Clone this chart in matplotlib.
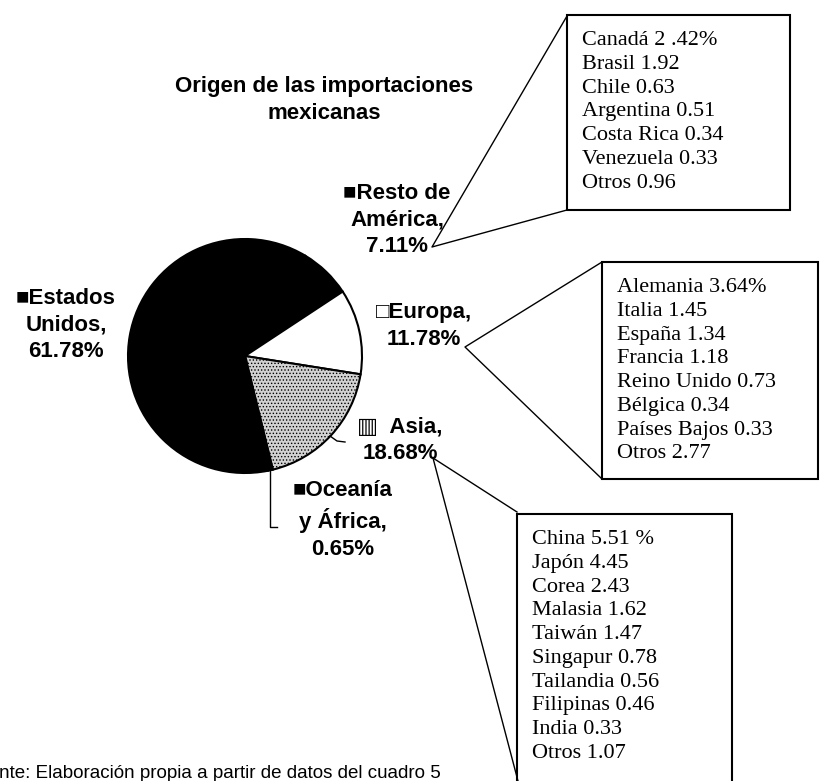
import matplotlib.pyplot as plt
from matplotlib.patches import Rectangle

plt.rcParams['hatch.linewidth'] = 0.6

W, H = 822, 781

# main pie (clockwise from Resto de America)
regions = ["Resto de\nAmérica,", "Europa,", "Asia,", "Oceanía\ny África,", "Estados\nUnidos,"]
shares = [7.11, 11.78, 18.68, 0.65, 61.78]
slice_colors = ["black", "white", "#d2d2d2", "black", "black"]

# detail boxes
america_names = ["Canadá", "Brasil", "Chile", "Argentina", "Costa Rica", "Venezuela", "Otros"]
america_vals = ["2 .42%", "1.92", "0.63", "0.51", "0.34", "0.33", "0.96"]
europa_names = ["Alemania", "Italia", "España", "Francia", "Reino Unido", "Bélgica", "Países Bajos", "Otros"]
europa_vals = ["3.64%", "1.45", "1.34", "1.18", "0.73", "0.34", "0.33", "2.77"]
asia_names = ["China", "Japón", "Corea", "Malasia", "Taiwán", "Singapur", "Tailandia", "Filipinas", "India", "Otros"]
asia_vals = ["5.51 %", "4.45", "2.43", "1.62", "1.47", "0.78", "0.56", "0.46", "0.33", "1.07"]

sans = ['Liberation Sans', 'DejaVu Sans']
serif = ['Liberation Serif', 'DejaVu Serif']

fig = plt.figure(figsize=(W / 100, H / 100), dpi=100)
ax = fig.add_axes([0, 0, 1, 1])

# y axis is inverted (pixel coords), so ccw in data = cw on screen
wedges, _ = ax.pie(shares, colors=slice_colors, startangle=-59, counterclock=True,
                   center=(245, 356), radius=117,
                   wedgeprops=dict(edgecolor='black', linewidth=1.5))
wedges[2].set_hatch('.....')

ax.set_xlim(0, W)
ax.set_ylim(H, 0)
ax.set_aspect('equal')
ax.axis('off')

ax.text(324, 100, "Origen de las importaciones\nmexicanas", ha='center', va='center',
        fontsize=16, fontweight='bold', family=sans, linespacing=1.4)

lab = dict(ha='center', va='center', fontsize=16, fontweight='bold', family=sans, linespacing=1.35)
ax.text(397, 220, "■" + regions[0] + f"\n{shares[0]:.2f}%", **lab)
ax.text(424, 326, "□" + regions[1] + f"\n{shares[1]:.2f}%", **lab)
ax.text(400, 440, "▥  " + regions[2] + f"\n{shares[2]:.2f}%", **lab)
ax.text(343, 520, "■" + regions[3] + f"\n{shares[3]:.2f}%", **lab)
ax.text(66, 325, "■" + regions[4] + f"\n{shares[4]:.2f}%", **lab)

# boxes: (left, top, right, bottom), names, vals
boxes = [
    ((567, 15, 790, 210), america_names, america_vals),
    ((602, 262, 818, 479), europa_names, europa_vals),
    ((517, 514, 732, 800), asia_names, asia_vals),
]
for (l, t, r, b), names, vals in boxes:
    ax.add_patch(Rectangle((l, t), r - l, b - t, facecolor='white', edgecolor='black',
                           linewidth=1.5, clip_on=False))
    txt = "\n".join(f"{n} {v}" for n, v in zip(names, vals))
    ax.text(l + 15, t + 16, txt, ha='left', va='top', fontsize=16, family=serif,
            linespacing=1.34)

# leader lines
leaders = [
    [(567, 16), (432, 247), (567, 210)],
    [(602, 262), (465, 347), (602, 479)],
    [(517, 512), (433, 458), (518, 781)],
    [(270, 468), (270, 527), (277, 527)],
    [(330, 436), (337, 441), (345, 442)],
]
for pts in leaders:
    xs, ys = zip(*pts)
    ax.plot(xs, ys, color='black', linewidth=1.0, clip_on=False)

ax.text(-33, 774, "Fuente: Elaboración propia a partir de datos del cuadro 5",
        ha='left', va='center', fontsize=13.5, family=sans, clip_on=False)

fig.savefig("out.png", dpi=100)
